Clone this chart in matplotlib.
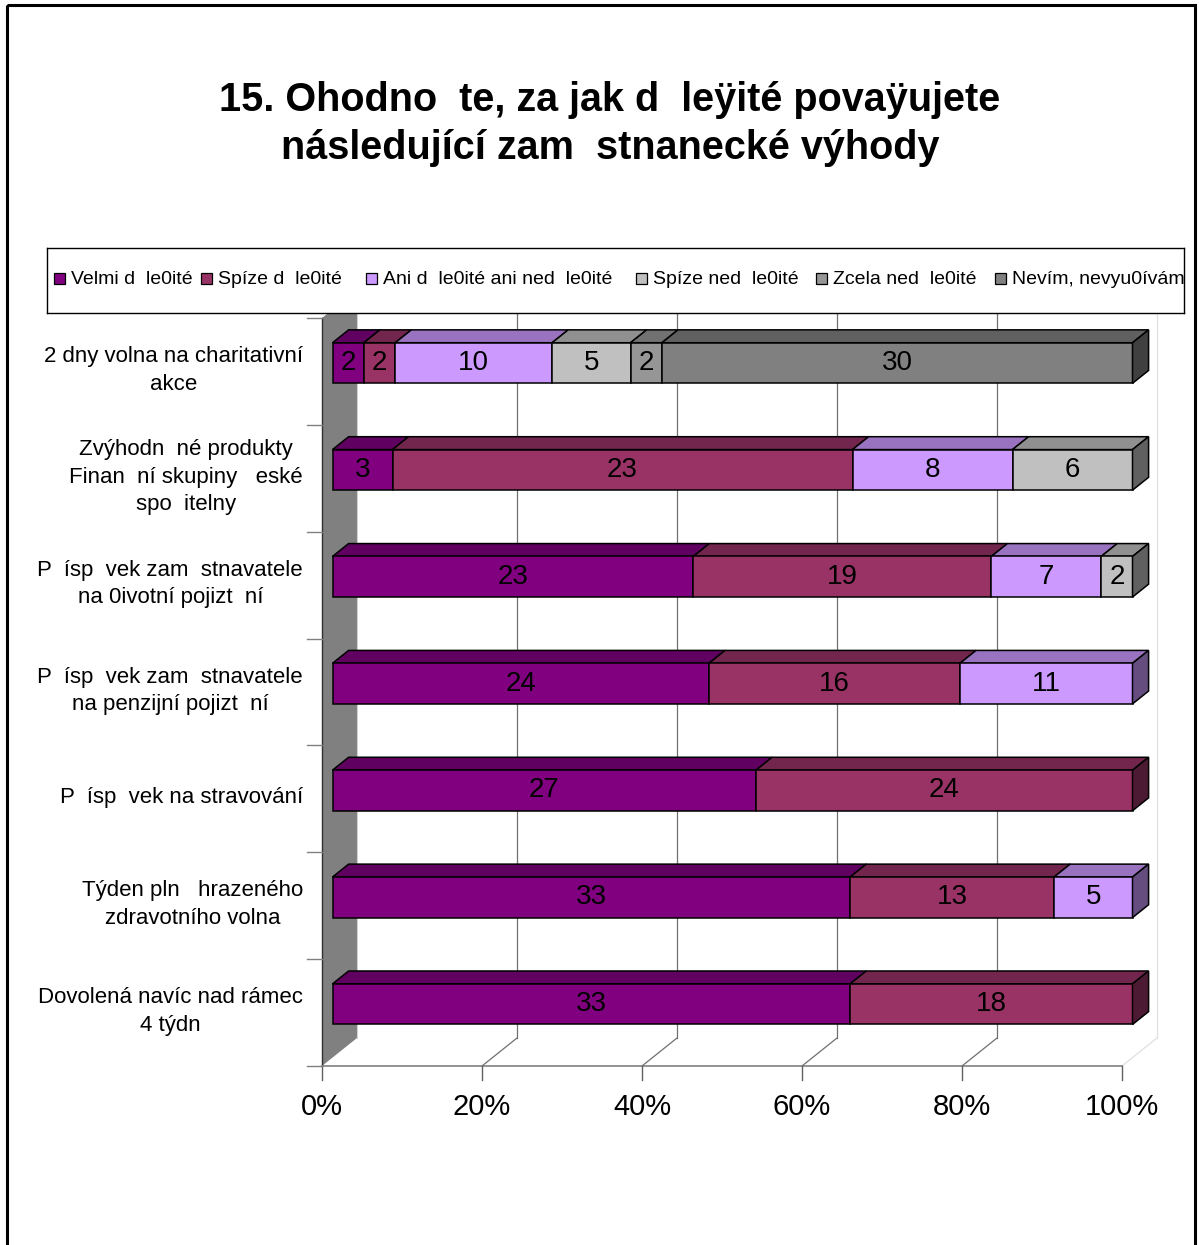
import numpy as np
import matplotlib
matplotlib.use('Agg')
import matplotlib.pyplot as plt
from matplotlib.patches import Polygon, Rectangle

plt.rcParams['font.family'] = ['Liberation Sans', 'DejaVu Sans']

# ---------------------------------------------------------------------------
# Data (garbled Czech text kept as it appears in the source)
# ---------------------------------------------------------------------------
title_lines = ['15. Ohodno  te, za jak d  leÿité povaÿujete',
               'následující zam  stnanecké výhody']

categories = [
    '2 dny volna na charitativní\nakce',
    'Zvýhodn  né produkty\nFinan  ní skupiny   eské\nspo  itelny',
    'P  ísp  vek zam  stnavatele\nna 0ivotní pojizt  ní',
    'P  ísp  vek zam  stnavatele\nna penzijní pojizt  ní',
    'P  ísp  vek na stravování',
    'Týden pln   hrazeného\nzdravotního volna',
    'Dovolená navíc nad rámec\n4 týdn',
]

series_names = ['Velmi d  le0ité', 'Spíze d  le0ité',
                'Ani d  le0ité ani ned  le0ité', 'Spíze ned  le0ité',
                'Zcela ned  le0ité', 'Nevím, nevyu0ívám']
series_colors = ['#800080', '#993366', '#CC99FF', '#C0C0C0', '#969696', '#808080']

velmi    = [2, 3, 23, 24, 27, 33, 33]
spise    = [2, 23, 19, 16, 24, 13, 18]
ani      = [10, 8, 7, 11, 0, 5, 0]
spise_ne = [5, 6, 2, 0, 0, 0, 0]
zcela_ne = [2, 0, 0, 0, 0, 0, 0]
nevim    = [30, 0, 0, 0, 0, 0, 0]

x_ticks = [0, 20, 40, 60, 80, 100]

# ---------------------------------------------------------------------------
# Layout
# ---------------------------------------------------------------------------
W, H = 1199, 1245
X0, Y0, Y1 = 322, 318, 1066          # front plane: 0 % column, top/bottom of category axis
SX = 8.0                              # px per percent
N = len(categories)
SY = (Y1 - Y0) / N                    # px per category

DX = 35 / SX                          # depth vector (data units)
DY = -28 / SY
F0, F1 = 0.30, 0.76                   # bar front/back depth
BT, BB = 0.31, 0.69                   # bar top/bottom within band


def shade(c, f):
    r, g, b = matplotlib.colors.to_rgb(c)
    return (r * f, g * f, b * f)


fig = plt.figure(figsize=(W / 100, H / 100), dpi=100)
fig.patch.set_facecolor('white')

bg = fig.add_axes([0, 0, 1, 1])
bg.set_xlim(0, W); bg.set_ylim(H, 0); bg.axis('off')
bg.add_patch(Rectangle((7, 5), 1188, 1400, fill=False, lw=2.2, ec='black'))
bg.text(610, 100, title_lines[0], ha='center', va='center',
        fontsize=28.5, fontweight='bold')
bg.text(610, 148, title_lines[1], ha='center', va='center',
        fontsize=28.5, fontweight='bold')

ax = fig.add_axes([0, 0, 1, 1])
ax.axis('off')
ax.set_xlim(-X0 / SX, (W - X0) / SX)
ax.set_ylim(N + (H - Y1) / SY, -Y0 / SY)

# left wall
ax.add_patch(Polygon([(0, 0), (DX, DY), (DX, N + DY), (0, N)],
                     closed=True, fc='#808080', ec='none', zorder=1))
ax.plot([DX, DX], [DY, N + DY], color='#d0d0d0', lw=0.8, zorder=1)
ax.plot([0, 0], [0, N], color='#303030', lw=1.0, zorder=2)

# gridlines on back wall + floor diagonals
for p in x_ticks[1:]:
    col = '#e0e0e0' if p == 100 else '#707070'
    ax.plot([p + DX, p + DX], [DY, N + DY], color=col, lw=0.9, zorder=1)
    ax.plot([p, p + DX], [N, N + DY], color=col, lw=0.9, zorder=1)

# value axis + ticks
ax.plot([0, 100], [N, N], color='#808080', lw=1.2, zorder=2)
for p in x_ticks:
    ax.plot([p, p], [N, N + 14 / SY], color='#606060', lw=1.0, zorder=2)
    ax.text(p, N + 41 / SY, f'{p}%', ha='center', va='center', fontsize=21)

# category ticks + labels
for k in range(N + 1):
    ax.plot([-15 / SX, 0], [k, k], color='#808080', lw=1.0, zorder=2)
for i, lab in enumerate(categories):
    ax.text(-19 / SX, i + 0.49, lab, ha='right', va='center', ma='center',
            fontsize=16, linespacing=1.4)

# 3D stacked bars
data = [velmi, spise, ani, spise_ne, zcela_ne, nevim]
for i in range(N):
    vals = [s[i] for s in data]
    tot = float(sum(vals))
    left = 0.0
    last = max(j for j, v in enumerate(vals) if v > 0)
    yt0, yb0 = i + BT + F0 * DY, i + BB + F0 * DY
    yt1, yb1 = i + BT + F1 * DY, i + BB + F1 * DY
    for j, v in enumerate(vals):
        if v == 0:
            continue
        a = left / tot * 100
        b = (left + v) / tot * 100
        left += v
        c = series_colors[j]
        ax.add_patch(Polygon([(a + F0 * DX, yt0), (b + F0 * DX, yt0),
                              (b + F1 * DX, yt1), (a + F1 * DX, yt1)],
                             closed=True, fc=shade(c, 0.75), ec='black',
                             lw=1.1, zorder=3))
        ax.add_patch(Polygon([(a + F0 * DX, yt0), (b + F0 * DX, yt0),
                              (b + F0 * DX, yb0), (a + F0 * DX, yb0)],
                             closed=True, fc=c, ec='black', lw=1.1, zorder=3))
        if j == last:
            ax.add_patch(Polygon([(b + F0 * DX, yt0), (b + F1 * DX, yt1),
                                  (b + F1 * DX, yb1), (b + F0 * DX, yb0)],
                                 closed=True, fc=shade(c, 0.5), ec='black',
                                 lw=1.1, zorder=3))
        ax.text((a + b) / 2 + F0 * DX, (yt0 + yb0) / 2, str(v),
                ha='center', va='center', fontsize=20, zorder=4)

# legend box (drawn over the plot, clips the last entry)
LX0, LX1, LY0, LY1 = 47, 1184, 248, 313
lg = fig.add_axes([LX0 / W, 1 - LY1 / H, (LX1 - LX0) / W, (LY1 - LY0) / H])
lg.set_xlim(LX0, LX1); lg.set_ylim(LY1, LY0)
lg.set_xticks([]); lg.set_yticks([])
lg.set_facecolor('white')
for s in lg.spines.values():
    s.set_color('black'); s.set_linewidth(1.0)
text_x = [71, 218, 383, 653, 833, 1012]
for name, col, tx in zip(series_names, series_colors, text_x):
    lg.add_patch(Rectangle((tx - 17, 273), 11, 11, fc=col, ec='black', lw=0.9))
    lg.text(tx, 279, name, ha='left', va='center', fontsize=14, clip_on=True)

fig.savefig('out.png', dpi=100, facecolor='white')
